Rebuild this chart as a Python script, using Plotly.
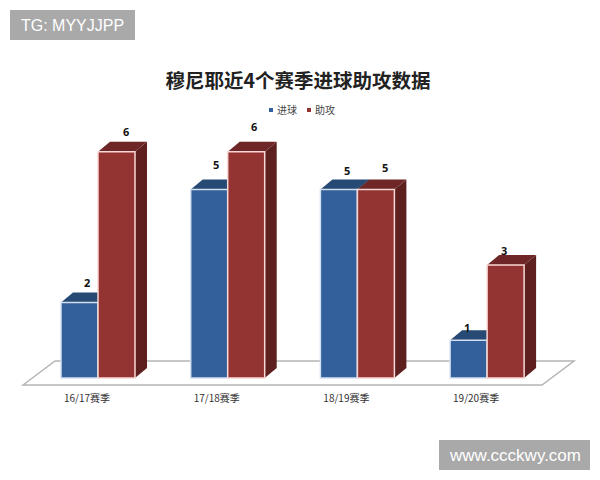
import plotly.graph_objects as go

categories = ["16/17赛季", "17/18赛季", "18/19赛季", "19/20赛季"]
goals = [2, 5, 5, 1]
assists = [6, 6, 5, 3]
series_names = ["进球", "助攻"]
title_text = "穆尼耶近4个赛季进球助攻数据"

# pixel calibration of the drawing: the page has an 8px body margin
PAGE = 8
FIG_W, FIG_H = 592, 472
PX_X = 129.7          # px per category step
PX_Y = 37.7           # px per unit value
X0_PX = 87            # page px of first category
Y0_PX = 378           # page px of value zero
PLOT_BOTTOM = 388
BAR_W = 37 / PX_X
DX = 12 / PX_X        # 3D depth
DY = 10 / PX_Y
BLUE, BLUE_TOP, BLUE_EDGE = "#33609a", "#274a75", "#d3e0f2"
RED, RED_TOP, RED_SIDE, RED_EDGE = "#933433", "#6e2626", "#5e1f1f", "#f7d8d4"
BLUE_SIDE = "#1f3c60"
OFF_BLUE = -26 / PX_X
OFF_RED = 11 / PX_X


def px2x(p):
    return (p - X0_PX) / PX_X


def px2y(p):
    return (Y0_PX - p) / PX_Y


def paper_x(p):
    return (p - PAGE) / FIG_W


def paper_y(p):
    return (PLOT_BOTTOM - p) / (PLOT_BOTTOM - PAGE)


def poly(pts, fill, line=None, width=0):
    path = "M " + " L ".join(f"{a:.4f},{b:.4f}" for a, b in pts) + " Z"
    return dict(type="path", path=path, xref="x", yref="y", layer="below",
                fillcolor=fill, line=dict(color=line or fill, width=width))


xs = list(range(len(categories)))
fig = go.Figure()
fig.add_bar(x=xs, y=goals, width=BAR_W, offset=OFF_BLUE, marker=dict(color=BLUE, line=dict(color=BLUE_EDGE, width=1.5)),
            showlegend=False, name=series_names[0])
fig.add_bar(x=xs, y=assists, width=BAR_W, offset=OFF_RED, marker=dict(color=RED, line=dict(color=RED_EDGE, width=1.5)),
            showlegend=False, name=series_names[1])

shapes = [poly([(px2x(23), px2y(385)), (px2x(55), px2y(361)), (px2x(574), px2y(361)), (px2x(542), px2y(385))],
               "#ffffff", "#b5b5b5", 1.5)]
for i in xs:
    for vals, off, top, side in ((goals, OFF_BLUE, BLUE_TOP, BLUE_SIDE), (assists, OFF_RED, RED_TOP, RED_SIDE)):
        v = vals[i]
        l = i + off
        r = l + BAR_W
        shapes.append(poly([(r, 0), (r + DX, DY), (r + DX, v + DY), (r, v)], side))
        shapes.append(poly([(l, v), (l + DX, v + DY), (r + DX, v + DY), (r, v)], top))

label_shift_goals = [(7.5, 20), (7, 25), (8, 19), (-1.5, 13)]
label_shift_assists = [(9.5, 20), (8, 25), (9, 22), (-1.5, 14)]
annotations = []
for i in xs:
    for vals, off, shifts in ((goals, OFF_BLUE, label_shift_goals), (assists, OFF_RED, label_shift_assists)):
        annotations.append(dict(x=i + off + BAR_W / 2, y=vals[i], xref="x", yref="y", text=f"<b>{vals[i]}</b>",
                                showarrow=False, xshift=shifts[i][0], yshift=shifts[i][1],
                                font=dict(size=11, color="#111111", family="Noto Sans")))

# watermarks
for text, size, x0, y0, x1, y1 in (("TG: MYYJJPP", 16, 10, 10, 135, 40), ("www.ccckwy.com", 17, 439, 440, 590, 470)):
    shapes.append(dict(type="rect", xref="paper", yref="paper", layer="above", fillcolor="#a9a9a9", line_width=0,
                       x0=paper_x(x0), x1=paper_x(x1), y0=paper_y(y0), y1=paper_y(y1)))
    annotations.append(dict(x=paper_x((x0 + x1) / 2), y=paper_y((y0 + y1) / 2), xref="paper", yref="paper", text=text,
                            showarrow=False, xanchor="center", yanchor="middle",
                            font=dict(size=size, color="#ffffff", family="Liberation Sans")))

# compact legend
for name, color, sq_x, txt_x in ((series_names[0], BLUE, 271, 287), (series_names[1], RED, 309, 325)):
    shapes.append(dict(type="rect", xref="paper", yref="paper", layer="above", fillcolor=color, line_width=0,
                       x0=paper_x(sq_x - 2), x1=paper_x(sq_x + 2), y0=paper_y(112), y1=paper_y(108)))
    annotations.append(dict(x=paper_x(txt_x), y=paper_y(110), xref="paper", yref="paper", text=name, showarrow=False,
                            xanchor="center", yanchor="middle",
                            font=dict(size=10, color="#444444", family="Noto Sans CJK SC")))

fig.update_layout(
    width=FIG_W, height=FIG_H, autosize=False, barmode="overlay", plot_bgcolor="#ffffff", paper_bgcolor="#ffffff",
    margin=dict(l=0, r=0, t=0, b=PAGE + FIG_H - PLOT_BOTTOM, autoexpand=False),
    title=dict(text=f"<b>{title_text}</b>", x=paper_x(298), xanchor="center", y=1 - (81 - PAGE) / FIG_H, yanchor="middle",
               font=dict(size=19.5, color="#222222", family="Noto Sans CJK SC")),
    showlegend=False,
    xaxis=dict(range=[px2x(PAGE), px2x(PAGE + FIG_W)], tickmode="array", tickvals=xs, ticktext=categories, showgrid=False,
               zeroline=False, showline=False, ticks="outside", ticklen=1, tickcolor="rgba(0,0,0,0)",
               tickfont=dict(size=10, color="#333333", family="Noto Sans CJK SC"), fixedrange=True),
    yaxis=dict(range=[px2y(PLOT_BOTTOM), px2y(PAGE)], visible=False, fixedrange=True),
    shapes=shapes, annotations=annotations,
)
fig.write_html("out.html")
